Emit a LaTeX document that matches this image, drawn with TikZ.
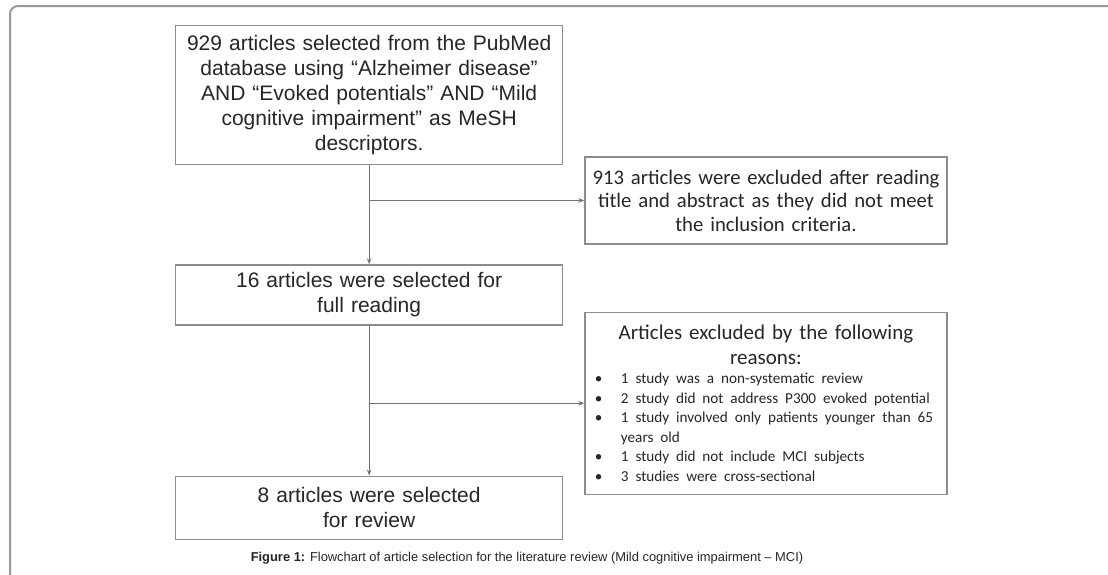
\documentclass[tikz,border=0pt]{standalone}
\usepackage{fontspec}
\setmainfont{Liberation Sans}
\newfontfamily\calibri{Carlito}
\usepackage{tikz}
\usetikzlibrary{arrows.meta, positioning}

\newcommand{\motivo}[1]{\par\hangindent=32pt\hangafter=1\noindent\makebox[32pt][l]{\hspace{6pt}•}#1}

\begin{document}
\begin{tikzpicture}[
        x=1pt, y=1pt,
        etapa/.style={rectangle, draw=black!45, line width=1.3pt, text=black!85, text width=379pt, align=center, inner xsep=4pt, inner ysep=0pt, font=\fontsize{21}{25}\selectfont},
        exclusao/.style={rectangle, draw=black!45, line width=1.3pt, text=black!85, text width=354pt, inner xsep=4pt, inner ysep=0pt, font=\calibri\fontsize{20.7}{23.5}\selectfont},
        fluxo/.style={draw=black!55, line width=1.1pt, ->, >={Stealth[length=6pt, width=4.5pt]}}
    ]
        % Moldura
        \useasboundingbox (0,0) rectangle (1108,-574);
        \begin{scope}
            \clip (0,0) rectangle (1108,-574);
            \draw[black!40, line width=2pt, rounded corners=8pt] (10,-620) -- (10,-6) -- (1140,-6);
        \end{scope}

        % Etapas da seleção
        \node[etapa, minimum height=139pt, anchor=north west] (pubmed) at (175,-25) {929 articles selected from the PubMed\\ database using “Alzheimer disease”\\ AND “Evoked potentials” AND “Mild\\ cognitive impairment” as MeSH\\ descriptors.};
        \node[etapa, minimum height=60pt, below=99pt of pubmed] (leitura) {16 articles were selected for\\ full reading};
        \node[etapa, minimum height=63pt, below=150pt of leitura] (revisao) {8 articles were selected\\ for review};

        % Exclusões
        \node[exclusao, align=center, minimum height=87pt, below right=-9pt and 21pt of pubmed.south east] (triagem) {913 articles were excluded after reading\\ title and abstract as they did not meet\\ the inclusion criteria.};
        \node[exclusao, minimum height=182pt, below right=-14pt and 21pt of leitura.south east] (motivos) {%
            {\centering\fontsize{21}{24.5}\selectfont Articles excluded by the following\\ reasons:\par}
            \raggedright\rightskip=0pt plus 1fil\fontsize{15.2}{19.5}\selectfont
            \motivo{1 study was a non-systematic review}
            \motivo{2 study did not address P300 evoked potential}
            \motivo{1 study involved only patients younger than 65\newline years old}
            \motivo{1 study did not include MCI subjects}
            \motivo{3 studies were cross-sectional}\par};

        % Conexões
        \coordinate (ramo1) at (pubmed.south |- triagem.west);
        \coordinate (ramo2) at (leitura.south |- motivos.west);
        \draw[fluxo] (pubmed) -- (leitura);
        \draw[fluxo] (ramo1) -- (triagem);
        \draw[fluxo] (leitura) -- (revisao);
        \draw[fluxo] (ramo2) -- (motivos);

        % Legenda
        \node[font=\fontsize{12.9}{15}\selectfont, text=black!85] (legenda) at (527,-558) {\textbf{Figure 1:} Flowchart of article selection for the literature review (Mild cognitive impairment – MCI)};
    \end{tikzpicture}
\end{document}
